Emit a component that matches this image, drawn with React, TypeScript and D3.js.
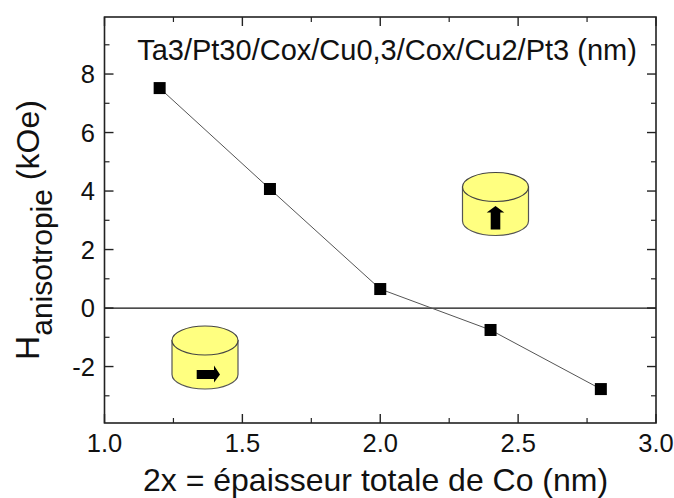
import React from "react";
import * as d3 from "d3";

const thickness = [1.2, 1.6, 2.0, 2.4, 2.8];
const anisotropy = [7.52, 4.07, 0.65, -0.75, -2.77];
const xMajor = [1.0, 1.5, 2.0, 2.5, 3.0];
const xMinor = [1.25, 1.75, 2.25, 2.75];
const yMajor = [-2, 0, 2, 4, 6, 8];
const yMinor = [-3, -1, 1, 3, 5, 7, 9];
const titleText = "Ta3/Pt30/Cox/Cu0,3/Cox/Cu2/Pt3 (nm)";
const xLabel = "2x = épaisseur totale de Co (nm)";

const L = 104.5, R = 656, T = 17, B = 423;
const FONT = "Liberation Sans, Arial, sans-serif";
const INK = "#222";

function Cylinder({ cx, top, dir }: { cx: number; top: number; dir: "up" | "right" }) {
  const rx = 33, ry = 14.5, h = 34;
  const body = `M${cx - rx},${top} L${cx - rx},${top + h} A${rx},${ry} 0 0 0 ${cx + rx},${top + h} L${cx + rx},${top} Z`;
  const c = top + h;
  const arrow = dir === "up"
    ? `M${cx - 4.8},${c + 8.5} L${cx - 4.8},${c - 8.5} L${cx - 8.8},${c - 8.5} L${cx},${c - 15} L${cx + 8.8},${c - 8.5} L${cx + 4.8},${c - 8.5} L${cx + 4.8},${c + 8.5} Z`
    : `M${cx - 8.3},${c - 4.5} L${cx + 9},${c - 4.5} L${cx + 9},${c - 9} L${cx + 15},${c} L${cx + 9},${c + 8} L${cx + 9},${c + 4.5} L${cx - 8.3},${c + 4.5} Z`;
  return (
    <g>
      <path d={body} fill="#ffff80" stroke="#555" strokeWidth={1.2} />
      <ellipse cx={cx} cy={top} rx={rx} ry={ry} fill="#ffff80" stroke="#444" strokeWidth={1.2} />
      <path d={arrow} fill="#000" />
    </g>
  );
}

export default function App() {
  const x = d3.scaleLinear().domain([1, 3]).range([L, R]);
  const y = d3.scaleLinear().domain([-3.93, 9.95]).range([B, T]);
  const line = d3.line<number>().x((d) => x(d)).y((_, i) => y(anisotropy[i]));
  const pts = thickness.map((t, i) => ({ t, v: anisotropy[i] }));

  return (
    <svg width={674} height={498} style={{ position: "absolute", left: 0, top: 0 }} fontFamily={FONT}>
      <rect width={674} height={498} fill="#fff" />
      <Cylinder cx={495.5} top={187} dir="up" />
      <Cylinder cx={205} top={340.5} dir="right" />
      <line x1={L} x2={R} y1={y(0)} y2={y(0)} stroke="#111" strokeWidth={1.3} />
      <path d={line(thickness) ?? ""} fill="none" stroke="#555" strokeWidth={1} />
      {pts.map((p) => (
        <rect key={p.t} x={x(p.t) - 6} y={y(p.v) - 6} width={12} height={12} fill="#000" />
      ))}
      <rect x={L} y={T} width={R - L} height={B - T} fill="none" stroke={INK} strokeWidth={1.6} />
      {xMajor.map((t) => (
        <g key={t}>
          <line x1={x(t)} x2={x(t)} y1={B} y2={B - 9} stroke={INK} strokeWidth={1.4} />
          <line x1={x(t)} x2={x(t)} y1={T} y2={T + 9} stroke={INK} strokeWidth={1.4} />
          <text x={x(t)} y={452} fontSize={25.5} textAnchor="middle" fill="#111">{t.toFixed(1)}</text>
        </g>
      ))}
      {xMinor.map((t) => (
        <g key={t}>
          <line x1={x(t)} x2={x(t)} y1={B} y2={B - 5} stroke={INK} strokeWidth={1.2} />
          <line x1={x(t)} x2={x(t)} y1={T} y2={T + 5} stroke={INK} strokeWidth={1.2} />
        </g>
      ))}
      {yMajor.map((t) => (
        <g key={t}>
          <line x1={L} x2={L + 9} y1={y(t)} y2={y(t)} stroke={INK} strokeWidth={1.4} />
          <line x1={R} x2={R - 9} y1={y(t)} y2={y(t)} stroke={INK} strokeWidth={1.4} />
          <text x={95} y={y(t) + 9} fontSize={25.5} textAnchor="end" fill="#111">{t}</text>
        </g>
      ))}
      {yMinor.map((t) => (
        <g key={t}>
          <line x1={L} x2={L + 5} y1={y(t)} y2={y(t)} stroke={INK} strokeWidth={1.2} />
          <line x1={R} x2={R - 5} y1={y(t)} y2={y(t)} stroke={INK} strokeWidth={1.2} />
        </g>
      ))}
      <text x={387} y={60} fontSize={29} textAnchor="middle" fill="#111">{titleText}</text>
      <text x={143} y={490.5} fontSize={32} fill="#111">{xLabel}</text>
      <text transform="translate(39,360) rotate(-90)" fontSize={33.5} fill="#111">
        H<tspan fontSize={30} dy={13}>anisotropie</tspan>
        <tspan fontSize={32} dy={-13}> (kOe)</tspan>
      </text>
    </svg>
  );
}
